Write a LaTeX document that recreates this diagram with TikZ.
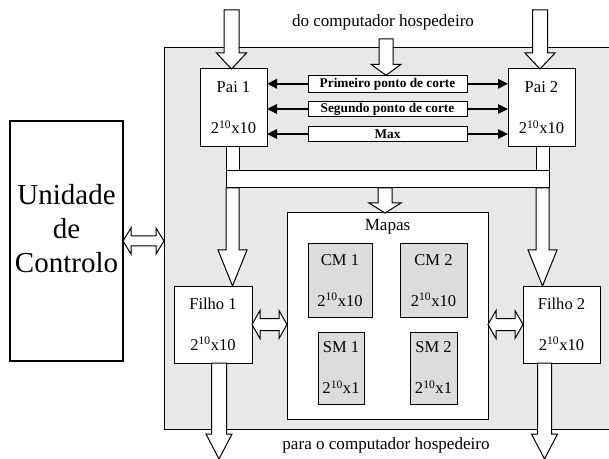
\documentclass[tikz,border=0pt]{standalone}
\usepackage{fontspec}
\setmainfont{Liberation Serif}
\usetikzlibrary{calc,arrows.meta}

\definecolor{panelgray}{RGB}{232,232,232}
\definecolor{memgray}{RGB}{220,220,220}

\tikzset{every picture/.style={line width=0.75pt}}
\tikzset{
  sz/.style 2 args={minimum width=#1*0.75pt,minimum height=#2*0.75pt},
  frame/.style={draw,fill=white,inner sep=0pt,outer sep=0pt},
  blk/.style={frame,align=center,font=\fontsize{12.4}{30.75}\selectfont},
  mem/.style={blk,fill=memgray},
  cutbox/.style={frame,font=\bfseries\fontsize{10}{12}\selectfont},
  txt/.style={inner sep=0pt,font=\fontsize{12.8}{15}\selectfont},
  hollow/.style={draw,fill=white,line join=miter},
  ptr/.style={-{Triangle[length=7.5pt,width=7pt]},line width=1.5pt}
}

% hollow block arrow pointing down: start, tip, shaft half, head half, head length
\newcommand{\blkdown}[5]{\draw[hollow] ($(#1)+(-#3,0)$) -- ($(#2)+(-#3,-#5)$) -- ($(#2)+(-#4,-#5)$) -- (#2) -- ($(#2)+(#4,-#5)$) -- ($(#2)+(#3,-#5)$) -- ($(#1)+(#3,0)$) -- cycle;}
% hollow double block arrow, left end to right end
\newcommand{\blkboth}[5]{\draw[hollow] (#1) -- ($(#1)+(#5,-#4)$) -- ($(#1)+(#5,-#3)$) -- ($(#2)+(-#5,-#3)$) -- ($(#2)+(-#5,-#4)$) -- (#2) -- ($(#2)+(-#5,#4)$) -- ($(#2)+(-#5,#3)$) -- ($(#1)+(#5,#3)$) -- ($(#1)+(#5,#4)$) -- cycle;}

\begin{document}
\begin{tikzpicture}[x=0.75pt,y=0.75pt,yscale=-1,xscale=1]
\useasboundingbox (0,0) rectangle (609,459);

%Panel
\node[frame,fill=panelgray,sz={447}{381}] (panel) at (387.5,238.5) {};

%Unidade de Controlo
\node[frame,line width=1.1pt,sz={113}{240}] (ctrl) at (66.5,241) {};
\node[align=center,inner sep=0pt,font=\fontsize{21.75}{25.5}\selectfont] (ctrltxt) at (66.5,229) {Unidade\\de\\Controlo};

%Pais
\node[blk,sz={67}{78}] (pai1) at (233.5,108) {Pai 1\\2\textsuperscript{10}x10};
\node[blk,sz={67}{78}] (pai2) at (541.5,108) {Pai 2\\2\textsuperscript{10}x10};

%Pontos de corte
\node[cutbox,sz={159}{17}] (corte1) at (387.5,83.8) {Primeiro ponto de corte};
\node[cutbox,sz={159}{14.5}] (corte2) at (387.5,109) {Segundo ponto de corte};
\node[cutbox,sz={159}{14.5}] (maxbox) at (387.5,134) {Max};
\foreach \c in {corte1,corte2,maxbox}{
  \draw[ptr] (\c.west) -- (\c.west -| pai1.east);
  \draw[ptr] (\c.east) -- (\c.east -| pai2.west);
}

%Bus
\node[frame,sz={323}{17}] (bus) at (387.5,179.5) {};
\draw[hollow] (bus.west |- pai1.south) rectangle ($(bus.north west)+(13,0)$);
\draw[hollow] (bus.east |- pai2.south) rectangle ($(bus.north east)+(-13,0)$);

%Mapas
\node[frame,sz={201}{206}] (mapas) at (387.5,316) {};
\node[txt] (mapastxt) at (387.5,227) {Mapas};
\node[mem,sz={64}{73}] (cm1) at (340,280.5) {CM 1\\2\textsuperscript{10}x10};
\node[mem,sz={67}{73}] (cm2) at (433.5,280.5) {CM 2\\2\textsuperscript{10}x10};
\node[mem,sz={46}{72}] (sm1) at (341,368) {SM 1\\2\textsuperscript{10}x1};
\node[mem,sz={47}{72}] (sm2) at (433.5,368) {SM 2\\2\textsuperscript{10}x1};

%Filhos
\node[blk,sz={78}{77}] (filho1) at (213,324.5) {Filho 1\\2\textsuperscript{10}x10};
\node[blk,sz={77}{77}] (filho2) at (561.5,324.5) {Filho 2\\2\textsuperscript{10}x10};

%Host text
\node[txt] (hostin) at (383,22) {do computador hospedeiro};
\node[txt] (hostout) at (386,445) {para o computador hospedeiro};

%Block arrows in
\coordinate (in1) at (231.5,10);
\coordinate (in1tip) at (in1 |- pai1.north);
\blkdown{in1}{in1tip}{7.5}{15}{16}
\coordinate (in2) at (540,10);
\coordinate (in2tip) at (in2 |- pai2.north);
\blkdown{in2}{in2tip}{7.5}{15}{16}
\coordinate (in3) at (386,39);
\coordinate (in3tip) at (in3 |- corte1.north);
\blkdown{in3}{in3tip}{7}{15}{11}

%Block arrows from bus
\coordinate (bus1) at ($(bus.south west)+(6.5,0)$);
\coordinate (bus1tip) at (bus1 |- filho1.north);
\blkdown{bus1}{bus1tip}{6.5}{14.5}{36}
\coordinate (bus2) at ($(bus.south east)+(-6.5,0)$);
\coordinate (bus2tip) at (bus2 |- filho2.north);
\blkdown{bus2}{bus2tip}{6.5}{14.5}{36}
\coordinate (bus3) at ($(bus.south)+(-2.5,0)$);
\coordinate (bus3tip) at (bus3 |- mapas.north);
\blkdown{bus3}{bus3tip}{7}{16}{10}

%Block arrows out
\coordinate (out1) at ($(filho1.south)+(6,0)$);
\coordinate (out1tip) at ($(filho1.south)+(6,96)$);
\blkdown{out1}{out1tip}{7.5}{13}{25}
\coordinate (out2) at ($(filho2.south)+(-17,0)$);
\coordinate (out2tip) at ($(filho2.south)+(-17,96)$);
\blkdown{out2}{out2tip}{7}{13}{25}

%Double arrows
\coordinate (ctrlend) at (ctrl.east -| panel.west);
\blkboth{ctrl.east}{ctrlend}{5}{13}{8}
\coordinate (f1end) at (filho1.east -| mapas.west);
\blkboth{filho1.east}{f1end}{6}{14}{8}
\coordinate (f2end) at (mapas.east |- filho2.west);
\blkboth{f2end}{filho2.west}{6}{14}{8}

\end{tikzpicture}
\end{document}
